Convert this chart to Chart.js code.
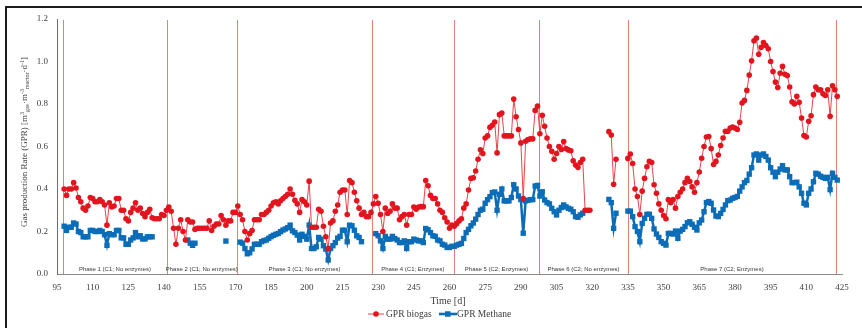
<!DOCTYPE html>
<html>
<head>
<meta charset="utf-8">
<title>GPR biogas / methane</title>
<script src="https://cdn.jsdelivr.net/npm/chart.js@4.4.1/dist/chart.umd.min.js"></script>
<style>
  html, body { margin: 0; padding: 0; background: #fff; overflow: hidden; }
  #wrap { position: relative; width: 862px; height: 328px; }
  #frame { position: absolute; left: 5px; top: 6px; width: 900px; height: 400px;
           border-left: 2px solid #1c1c1c; border-top: 2px solid #1c1c1c; }
  canvas { position: absolute; left: 0; top: 0; }
</style>
</head>
<body>
<div id="wrap">
  <div id="frame"></div>
  <canvas id="gprChart" width="862" height="328"></canvas>
</div>
<script>
// first day of the daily series, values below are one per day (null = no measurement)
const firstDay = 98;

const biogas = [
  0.40, 0.37, 0.40, 0.40, 0.43, 0.405, 0.36, 0.34, 0.31, 0.30,
  0.32, 0.36, 0.355, 0.34, 0.34, 0.35, 0.34, 0.325, 0.23, 0.335,
  0.315, 0.32, 0.355, 0.355, 0.30, 0.30, 0.26, 0.25, 0.29, 0.31,
  0.335, 0.30, 0.31, 0.285, 0.27, 0.29, 0.305, 0.265, 0.26, 0.26,
  0.26, 0.28, 0.275, 0.30, 0.315, 0.295, 0.215, 0.14, 0.215, 0.255,
  0.20, 0.16, 0.255, 0.245, 0.245, 0.21, 0.215, 0.215, 0.215, 0.215,
  0.215, 0.25, 0.205, 0.225, 0.235, 0.235, 0.275, 0.255, 0.23, 0.25,
  0.25, 0.29, 0.29, 0.32, 0.28, 0.255, 0.20, 0.16, 0.19, 0.205,
  0.255, 0.255, 0.255, 0.28, 0.28, 0.29, 0.30, 0.32, 0.335, 0.34,
  0.33, 0.345, 0.355, 0.365, 0.375, 0.40, 0.375, 0.347, 0.33, 0.29,
  0.35, 0.34, 0.325, 0.437, 0.22, 0.22, 0.22, 0.305, 0.295, 0.225,
  0.175, 0.12, 0.24, 0.25, 0.295, 0.325, 0.385, 0.395, 0.395, 0.28,
  0.44, 0.43, 0.385, 0.345, 0.31, 0.28, 0.29, 0.27, 0.27, 0.29,
  0.33, 0.365, 0.333, 0.28, 0.20, 0.31, 0.285, 0.295, 0.33, 0.31,
  0.31, 0.255, 0.27, 0.28, 0.23, 0.28, 0.28, 0.315, 0.305, 0.315,
  0.317, 0.317, 0.44, 0.415, 0.37, 0.355, 0.355, 0.33, 0.30, 0.29,
  0.265, 0.245, 0.215, 0.23, 0.225, 0.237, 0.25, 0.26, 0.31, 0.33,
  0.395, 0.45, 0.453, 0.485, 0.54, 0.585, 0.567, 0.64, 0.65, 0.69,
  0.70, 0.715, 0.57, 0.75, 0.758, 0.65, 0.65, 0.65, 0.65, 0.823,
  0.74, 0.68, 0.617, 0.355, 0.625, 0.633, 0.636, 0.636, 0.77, 0.79,
  0.66, 0.747, 0.695, 0.64, 0.60, 0.578, 0.54, 0.567, 0.60, 0.586,
  0.623, 0.59, 0.584, 0.58, 0.533, 0.513, 0.502, 0.525, 0.54, 0.30,
  0.30, 0.30, null, null, null, null, null, null, null, 0.67,
  0.654, 0.422, 0.54, null, null, null, null, 0.544, 0.565, 0.52,
  0.40, 0.365, 0.28, 0.39, 0.45, 0.505, 0.53, 0.525, 0.42, 0.38,
  0.33, 0.30, 0.275, 0.26, 0.35, 0.335, 0.35, 0.31, 0.365, 0.385,
  0.40, 0.43, 0.45, 0.435, 0.41, 0.385, 0.43, 0.48, 0.545, 0.60,
  0.645, 0.647, 0.59, 0.515, 0.53, 0.56, 0.605, 0.64, 0.672, 0.672,
  0.687, 0.692, 0.687, 0.68, 0.714, 0.805, 0.817, 0.864, 0.936, 1.003,
  1.098, 1.11, 1.034, 1.067, 1.089, 1.075, 1.06, 1.0, 0.953, 0.903,
  0.878, 0.945, 0.977, 0.94, 0.934, 0.88, 0.81, 0.80, 0.836, 0.808,
  0.734, 0.652, 0.645, 0.719, 0.745, 0.844, 0.88, 0.867, 0.867, 0.848,
  0.84, 0.867, 0.742, 0.886, 0.867, 0.836
];

const methane = [
  0.225, 0.205, 0.22, 0.22, 0.24, 0.235, 0.20, 0.195, 0.175, 0.175,
  0.175, 0.205, 0.205, 0.20, 0.20, 0.205, 0.20, 0.185, 0.135, 0.19,
  0.185, 0.185, 0.205, 0.205, 0.17, 0.17, 0.14, 0.14, 0.16, 0.17,
  0.195, 0.175, 0.18, 0.165, 0.165, 0.175, 0.175, 0.175, null, null,
  null, null, null, null, null, null, null, null, null, null,
  null, null, 0.16, 0.145, 0.135, 0.145, null, null, null, null,
  null, null, null, null, null, null, null, null, 0.155, null,
  null, null, null, null, 0.15, 0.145, 0.12, 0.095, 0.10, 0.118,
  0.14, 0.14, 0.14, 0.152, 0.157, 0.16, 0.168, 0.176, 0.182, 0.187,
  0.191, 0.199, 0.207, 0.212, 0.218, 0.23, 0.203, 0.195, 0.183, 0.16,
  0.187, 0.177, 0.164, 0.23, 0.12, 0.12, 0.128, 0.172, 0.164, 0.133,
  0.117, 0.066, 0.12, 0.133, 0.148, 0.169, 0.177, 0.206, 0.206, 0.152,
  0.23, 0.227, 0.206, 0.18, 0.172, 0.152, null, null, null, null,
  null, 0.19, 0.18, 0.156, 0.12, 0.177, 0.164, 0.164, 0.177, 0.167,
  0.16, 0.148, 0.148, 0.156, 0.12, 0.152, 0.152, 0.164, 0.16, 0.156,
  0.156, 0.148, 0.214, 0.208, 0.195, 0.18, 0.177, 0.16, 0.156, 0.14,
  0.136, 0.125, 0.125, 0.13, 0.13, 0.136, 0.14, 0.144, 0.167, 0.195,
  0.21, 0.227, 0.24, 0.258, 0.28, 0.30, 0.305, 0.333, 0.35, 0.364,
  0.383, 0.386, 0.30, 0.375, 0.40, 0.344, 0.344, 0.344, 0.36, 0.42,
  0.40, 0.367, 0.35, 0.192, 0.344, 0.347, 0.35, 0.35, 0.414, 0.417,
  0.367, 0.387, 0.348, 0.336, 0.33, 0.309, 0.293, 0.278, 0.30, 0.313,
  0.325, 0.316, 0.309, 0.305, 0.293, 0.27, 0.267, 0.278, 0.286, null,
  null, null, null, null, null, null, null, null, null, 0.351,
  0.336, 0.215, 0.286, null, null, null, null, 0.296, 0.296, 0.27,
  0.223, 0.20, 0.152, 0.238, 0.262, 0.281, 0.281, 0.262, 0.212, 0.188,
  0.172, 0.152, 0.144, 0.136, 0.191, 0.191, 0.188, 0.202, 0.168, 0.202,
  0.21, 0.223, 0.241, 0.246, 0.234, 0.22, 0.207, 0.241, 0.254, 0.293,
  0.336, 0.341, 0.333, 0.301, 0.273, 0.27, 0.285, 0.304, 0.325, 0.345,
  0.348, 0.356, 0.36, 0.365, 0.39, 0.41, 0.43, 0.44, 0.47, 0.50,
  0.56, 0.565, 0.536, 0.56, 0.565, 0.553, 0.536, 0.50, 0.479, 0.458,
  0.479, 0.494, 0.51, 0.49, 0.49, 0.458, 0.43, 0.43, 0.432, 0.41,
  0.38, 0.333, 0.325, 0.38, 0.40, 0.434, 0.474, 0.47, 0.46, 0.455,
  0.45, 0.455, 0.397, 0.474, 0.455, 0.442
];

const days = biogas.map((v, i) => firstDay + i);

// phase boundaries (day) and the labels written inside each phase
const phaseBounds = [97.6, 141.1, 170.6, 227.5, 261.7, 297.8, 334.9, 422.6];
const phaseLabels = [
  "Phase 1 (C1; No enzymes)",
  "Phase 2 (C1; No enzymes)",
  "Phase 3 (C1; No enzymes)",
  "Phase 4 (C1; Enzymes)",
  "Phase 5 (C2; Enzymes)",
  "Phase 6 (C2; No enzymes)",
  "Phase 7 (C2; Enzymes)"
];

const xTickValues = [95, 110, 125, 140, 155, 170, 185, 200, 215, 230, 245, 260, 275, 290, 305, 320, 335, 350, 365, 380, 395, 410, 425];
const yTickValues = [0, 0.2, 0.4, 0.6, 0.8, 1.0, 1.2];

const RED = "#e2141e";
const RED_LINE = "#e8434a";
const BLUE = "#0b6db8";
const SERIF = "'Liberation Serif', 'DejaVu Serif', serif";

// phase lines, phase labels, axis titles and legend
const gprDecor = {
  id: "gprDecor",
  beforeDatasetsDraw(chart) {
    const ctx = chart.ctx;
    const area = chart.chartArea;
    const x = chart.scales.x;
    ctx.save();
    ctx.strokeStyle = "rgba(220, 70, 70, 0.7)";
    ctx.lineWidth = 1;
    phaseBounds.forEach(function(d) {
      const px = Math.round(x.getPixelForValue(d)) + 0.5;
      ctx.beginPath();
      ctx.moveTo(px, area.top + 1);
      ctx.lineTo(px, area.bottom);
      ctx.stroke();
    });
    ctx.fillStyle = "#383838";
    ctx.font = "6px 'Liberation Sans', sans-serif";
    ctx.textAlign = "center";
    ctx.textBaseline = "middle";
    phaseLabels.forEach(function(label, i) {
      const cx = (x.getPixelForValue(phaseBounds[i]) + x.getPixelForValue(phaseBounds[i + 1])) / 2;
      ctx.fillText(label, cx, area.bottom - 5);
    });
    ctx.restore();
  },
  afterDraw(chart) {
    const ctx = chart.ctx;
    ctx.save();
    ctx.fillStyle = "#3c3c3c";

    // x title
    ctx.font = "10px " + SERIF;
    ctx.textAlign = "center";
    ctx.textBaseline = "middle";
    ctx.fillText("Time [d]", 448, 301);

    // y title with super/subscripts
    const parts = [
      { t: "Gas production Rate (GPR) [m", s: 9, dy: 0 },
      { t: "3", s: 6, dy: -3 },
      { t: "gas", s: 6, dy: 2 },
      { t: "\u00b7m", s: 9, dy: 0 },
      { t: "-3", s: 6, dy: -3 },
      { t: "reactor", s: 6, dy: 2 },
      { t: "\u00b7d", s: 9, dy: 0 },
      { t: "-1", s: 6, dy: -3 },
      { t: "]", s: 9, dy: 0 }
    ];
    let total = 0;
    parts.forEach(function(p) {
      ctx.font = p.s + "px " + SERIF;
      p.w = ctx.measureText(p.t).width;
      total += p.w;
    });
    ctx.translate(25, 142);
    ctx.rotate(-Math.PI / 2);
    ctx.textAlign = "left";
    let cx = -total / 2;
    parts.forEach(function(p) {
      ctx.font = p.s + "px " + SERIF;
      ctx.fillText(p.t, cx, p.dy);
      cx += p.w;
    });
    ctx.setTransform(1, 0, 0, 1, 0, 0);

    // legend
    const ly = 314;
    ctx.strokeStyle = RED_LINE;
    ctx.lineWidth = 1;
    ctx.beginPath(); ctx.moveTo(368, ly); ctx.lineTo(384, ly); ctx.stroke();
    ctx.fillStyle = RED;
    ctx.beginPath(); ctx.arc(376, ly, 2.8, 0, Math.PI * 2); ctx.fill();
    ctx.strokeStyle = BLUE;
    ctx.lineWidth = 2.6;
    ctx.beginPath(); ctx.moveTo(439, ly); ctx.lineTo(457, ly); ctx.stroke();
    ctx.fillStyle = BLUE;
    ctx.fillRect(445, ly - 2.75, 5.5, 5.5);
    ctx.fillStyle = "#3c3c3c";
    ctx.font = "9.5px " + SERIF;
    ctx.textAlign = "left";
    ctx.textBaseline = "middle";
    ctx.fillText("GPR biogas", 386, ly);
    ctx.fillText("GPR Methane", 457, ly);
    ctx.restore();
  }
};

const ctx = document.getElementById("gprChart").getContext("2d");

new Chart(ctx, {
  type: "line",
  data: {
    datasets: [
      {
        label: "GPR biogas",
        data: days.map((d, i) => ({ x: d, y: biogas[i] })),
        borderColor: RED_LINE,
        borderWidth: 1,
        pointStyle: "circle",
        pointRadius: 2.8,
        pointBorderWidth: 0,
        pointBackgroundColor: RED,
        pointBorderColor: RED,
        spanGaps: false,
        tension: 0
      },
      {
        label: "GPR Methane",
        data: days.map((d, i) => ({ x: d, y: methane[i] })),
        borderColor: BLUE,
        borderWidth: 2.5,
        pointStyle: "rect",
        pointRadius: 3.8,
        pointBorderWidth: 0,
        pointBackgroundColor: BLUE,
        pointBorderColor: BLUE,
        spanGaps: false,
        tension: 0
      }
    ]
  },
  options: {
    responsive: false,
    animation: false,
    devicePixelRatio: 1,
    layout: { padding: { top: 19, right: 20, bottom: 0, left: 0 } },
    plugins: {
      legend: { display: false },
      title: { display: false },
      tooltip: { enabled: false }
    },
    scales: {
      x: {
        type: "linear",
        min: 95,
        max: 425,
        afterBuildTicks: function(scale) {
          scale.ticks = xTickValues.map(v => ({ value: v }));
        },
        afterFit: function(scale) { scale.height = 54; },
        grid: { display: false, drawTicks: false },
        border: { display: true, color: "#8a8a8a", width: 1 },
        ticks: {
          padding: 8,
          color: "#404040",
          font: { family: "Liberation Serif", size: 9 },
          maxRotation: 0,
          callback: v => String(v)
        }
      },
      y: {
        min: 0,
        max: 1.2,
        afterBuildTicks: function(scale) {
          scale.ticks = yTickValues.map(v => ({ value: v }));
        },
        afterFit: function(scale) { scale.width = 57; },
        grid: { display: false, drawTicks: false },
        border: { display: true, color: "#6f6f6f", width: 1 },
        ticks: {
          padding: 9,
          color: "#404040",
          font: { family: "Liberation Serif", size: 9 },
          callback: v => Number(v).toFixed(1)
        }
      }
    }
  },
  plugins: [gprDecor]
});
</script>
</body>
</html>
